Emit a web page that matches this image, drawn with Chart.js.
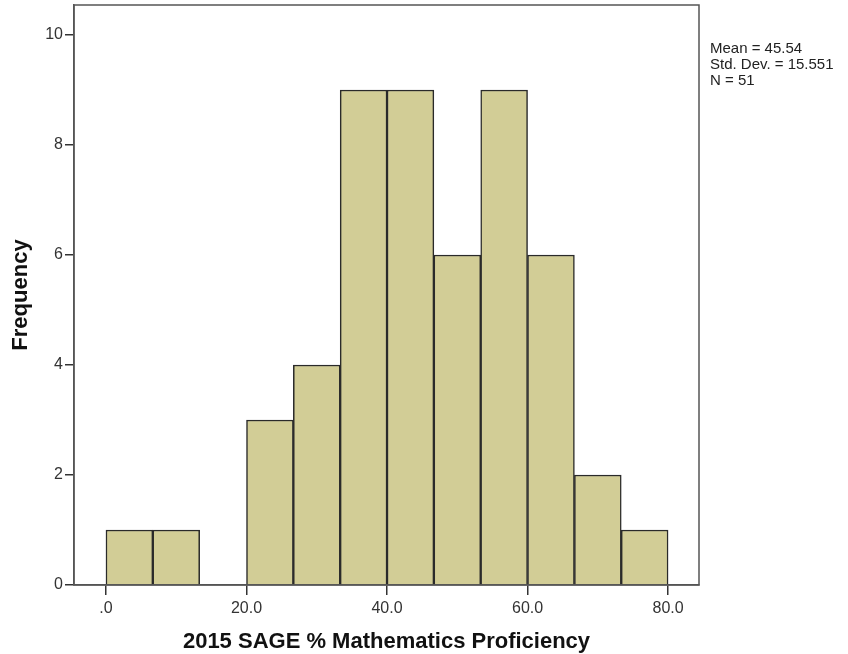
<!DOCTYPE html>
<html><head><meta charset="utf-8">
<script src="https://cdn.jsdelivr.net/npm/chart.js@4"></script>
<style>html,body{margin:0;padding:0;background:#fff}#wrap{width:848px;height:654px}</style>
</head><body><div id="wrap"><canvas id="c" width="848" height="654"></canvas></div>
<script>
const binCenters = [3.333, 10, 16.667, 23.333, 30, 36.667, 43.333, 50, 56.667, 63.333, 70, 76.667];
const frequencies = [1, 1, 0, 3, 4, 9, 9, 6, 9, 6, 2, 1];
const xTickValues = [0, 20, 40, 60, 80];
const xTickLabels = ['.0', '20.0', '40.0', '60.0', '80.0'];
const yTickValues = [0, 2, 4, 6, 8, 10];
const statsLines = ['Mean = 45.54', 'Std. Dev. = 15.551', 'N = 51'];

const frame = {
  id: 'frame',
  afterDraw(chart) {
    const {ctx, chartArea: a} = chart;
    ctx.save();
    ctx.strokeStyle = '#555';
    ctx.lineWidth = 1.5;
    ctx.strokeRect(a.left, a.top, a.right - a.left, a.bottom - a.top);
    ctx.fillStyle = '#222';
    ctx.font = '15px "Liberation Sans", Arial, sans-serif';
    ctx.textBaseline = 'alphabetic';
    statsLines.forEach((t, i) => ctx.fillText(t, 710, 53 + i * 16));
    ctx.restore();
  }
};

new Chart(document.getElementById('c'), {
  type: 'bar',
  data: {
    datasets: [{
      data: binCenters.map((x, i) => ({x, y: frequencies[i]})),
      backgroundColor: '#d2cd96',
      borderColor: '#2a2a2a',
      borderWidth: 1.5,
      barPercentage: 1,
      categoryPercentage: 1
    }]
  },
  options: {
    responsive: false,
    animation: false,
    layout: {padding: {top: 5, right: 149, left: 0, bottom: 0}},
    plugins: {legend: {display: false}, tooltip: {enabled: false}},
    scales: {
      x: {
        type: 'linear', min: -4.55, max: 84.4, offset: false,
        afterBuildTicks: s => { s.ticks = xTickValues.map(v => ({value: v})); },
        afterFit: s => { s.height = 69; s.paddingLeft = 0; s.paddingRight = 0; },
        grid: {display: true, offset: false, drawOnChartArea: false, tickLength: 10, color: '#333', lineWidth: 1.5},
        border: {display: true, color: '#555', width: 1.5},
        ticks: {color: '#333', font: {size: 16, family: '"Liberation Sans", Arial'}, padding: 4, maxRotation: 0,
          callback: (v) => { const i = xTickValues.indexOf(v); return i >= 0 ? xTickLabels[i] : ''; }},
        title: {display: true, text: '2015 SAGE % Mathematics Proficiency', color: '#111',
          font: {size: 22, weight: 'bold', family: '"Liberation Sans", Arial'}, padding: {top: 4, bottom: -1}}
      },
      y: {
        min: 0, max: 10.545,
        afterBuildTicks: s => { s.ticks = yTickValues.map(v => ({value: v})); },
        afterFit: s => { s.width = 74; s.paddingTop = 0; s.paddingBottom = 0; },
        grid: {display: true, drawOnChartArea: false, tickLength: 9, color: '#333', lineWidth: 1.5},
        border: {display: true, color: '#555', width: 1.5},
        ticks: {color: '#333', font: {size: 16, family: '"Liberation Sans", Arial'}, padding: 2},
        title: {display: true, text: 'Frequency', color: '#111',
          font: {size: 22, weight: 'bold', family: '"Liberation Sans", Arial'}, padding: {top: 8, bottom: 4}}
      }
    }
  },
  plugins: [frame]
});
</script></body></html>
